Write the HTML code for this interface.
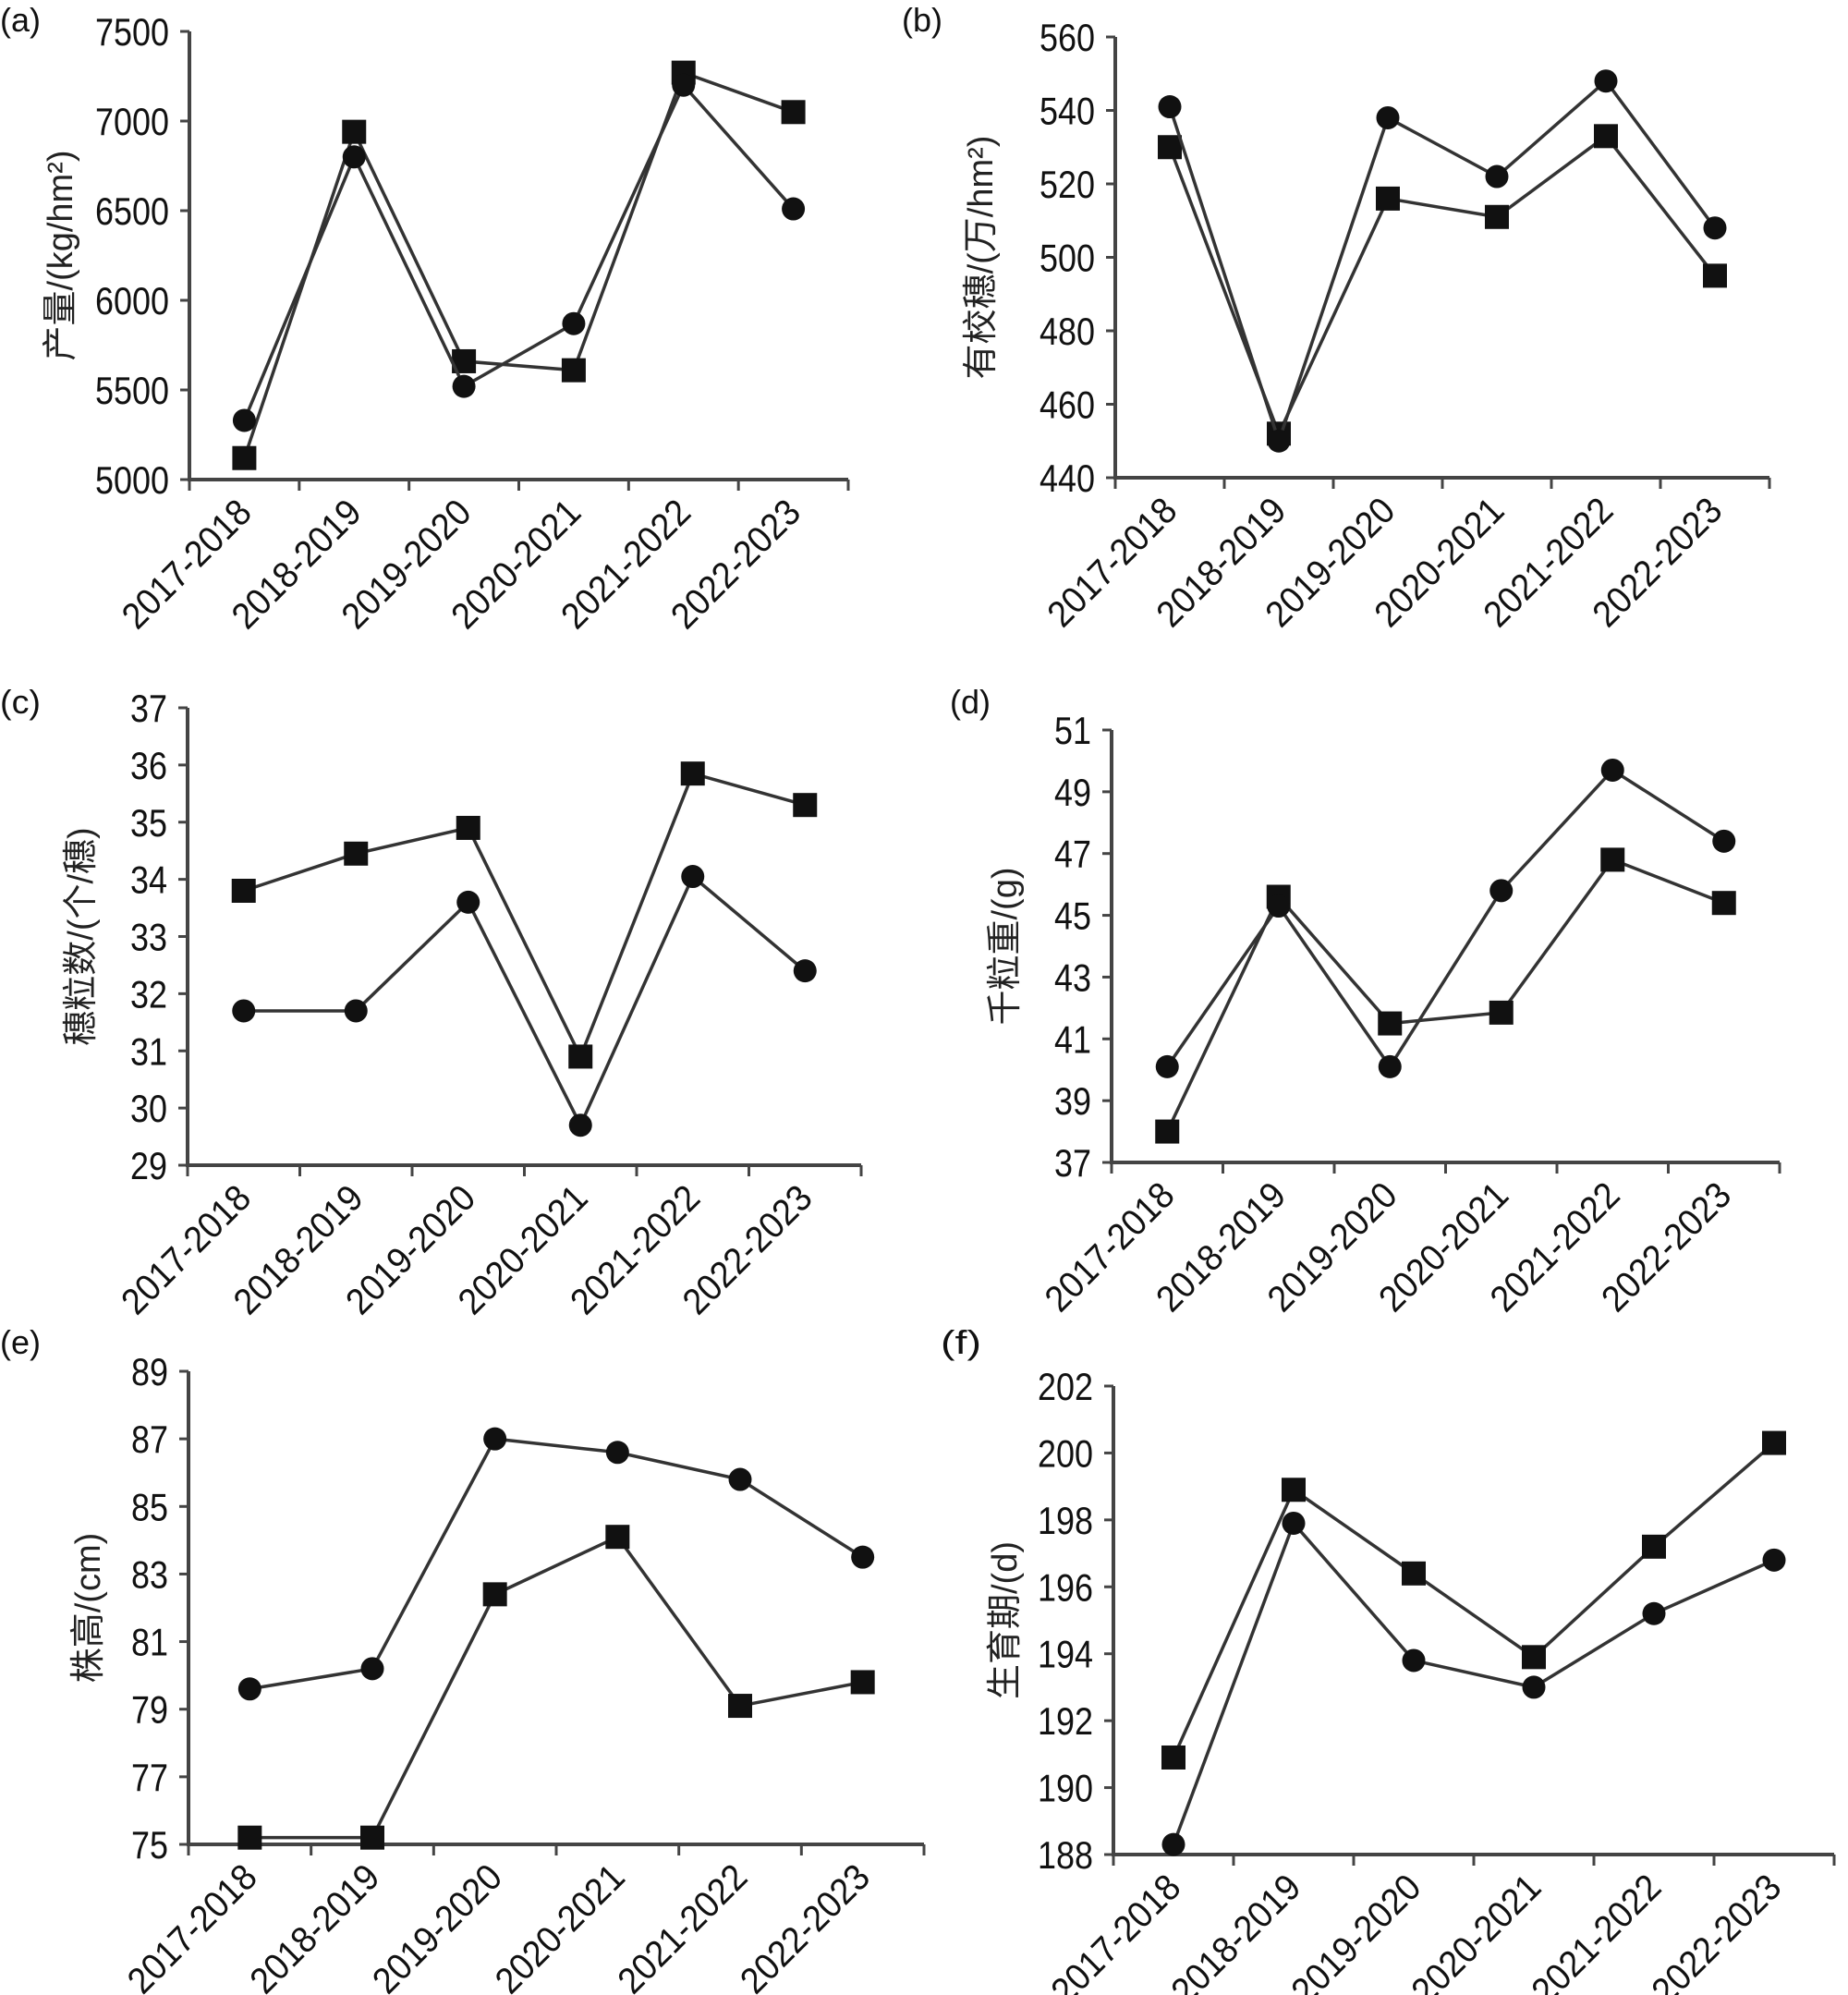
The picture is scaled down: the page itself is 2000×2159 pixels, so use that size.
<!DOCTYPE html>
<html><head><meta charset="utf-8"><style>html,body{margin:0;padding:0;background:#fff}svg{display:block}</style></head>
<body>
<svg id="fig" width="2000" height="2159" viewBox="0 0 2000 2159" xmlns="http://www.w3.org/2000/svg" font-family="'Liberation Sans','Noto Sans CJK SC',sans-serif"></svg>
<script>
const categories = ["2017-2018","2018-2019","2019-2020","2020-2021","2021-2022","2022-2023"];
const aCircle = [5330, 6800, 5520, 5870, 7200, 6510];
const aSquare = [5120, 6940, 5660, 5610, 7270, 7050];
const aTicks = [5000, 5500, 6000, 6500, 7000, 7500];
const bCircle = [541, 450, 538, 522, 548, 508];
const bSquare = [530, 452, 516, 511, 533, 495];
const bTicks = [440, 460, 480, 500, 520, 540, 560];
const cCircle = [31.7, 31.7, 33.6, 29.7, 34.05, 32.4];
const cSquare = [33.8, 34.45, 34.9, 30.9, 35.85, 35.3];
const cTicks = [29, 30, 31, 32, 33, 34, 35, 36, 37];
const dCircle = [40.1, 45.3, 40.1, 45.8, 49.7, 47.4];
const dSquare = [38.0, 45.6, 41.5, 41.85, 46.8, 45.4];
const dTicks = [37, 39, 41, 43, 45, 47, 49, 51];
const eCircle = [79.6, 80.2, 87.0, 86.6, 85.8, 83.5];
const eSquare = [75.2, 75.2, 82.4, 84.1, 79.1, 79.8];
const eTicks = [75, 77, 79, 81, 83, 85, 87, 89];
const fCircle = [188.3, 197.9, 193.8, 193.0, 195.2, 196.8];
const fSquare = [190.9, 198.9, 196.4, 193.9, 197.2, 200.3];
const fTicks = [188, 190, 192, 194, 196, 198, 200, 202];

const NS = "http://www.w3.org/2000/svg";
const svg = document.getElementById("fig");
function mk(tag, attrs, parent) {
  const el = document.createElementNS(NS, tag);
  for (const k in attrs) el.setAttribute(k, attrs[k]);
  (parent || svg).appendChild(el);
  return el;
}
function panel(p) {
  const g = mk("g", {});
  
  
  const lo = p.ticks[0], hi = p.ticks[p.ticks.length - 1];
  const y = v => p.y0 + (v - lo) / (hi - lo) * (p.y1 - p.y0);
  const step = (p.x1 - p.x0) / categories.length;
  const x = i => p.x0 + step * (i + 0.5);
  const lbl = mk("text", {x: p.lx, y: p.ly, "font-size": 36, fill: "#111", textLength: 44, lengthAdjust: "spacingAndGlyphs"}, g);
  lbl.textContent = "(" + p.id + ")";
  
  
  const ax = mk("path", {d: `M${p.x0} ${p.y1}V${p.y0}H${p.x1}`, stroke: "#444", "stroke-width": 4, fill: "none"}, g);
  
  
  p.ticks.forEach(t => {
    mk("line", {x1: p.x0 - 10, x2: p.x0, y1: y(t), y2: y(t), stroke: "#444", "stroke-width": 3}, g);
    const s = String(t);
    const tl = mk("text", {x: p.x0 - 22, y: y(t) + 15, "font-size": 42, "text-anchor": "end", fill: "#111", textLength: s.length * 20, lengthAdjust: "spacingAndGlyphs"}, g);
    tl.textContent = s;
    
    
  });
  for (let i = 0; i <= categories.length; i++) {
    const tx = p.x0 + step * i;
    mk("line", {x1: tx, x2: tx, y1: p.y0, y2: p.y0 + 12, stroke: "#444", "stroke-width": 3}, g);
  }
  categories.forEach((c, i) => {
    const ex = x(i) + 10, ey = p.y0 + 38;
    const t = mk("text", {x: ex, y: ey, "font-size": 40, "text-anchor": "end", fill: "#111", textLength: 178, lengthAdjust: "spacingAndGlyphs", transform: `rotate(-45 ${ex} ${ey})`}, g);
    t.textContent = c;
    
    
  });
  const yl = mk("text", {x: p.ylx, y: (p.y0 + p.y1) / 2, "font-size": 38, "text-anchor": "middle", fill: "#222", transform: `rotate(-90 ${p.ylx} ${(p.y0 + p.y1) / 2})`}, g);
  yl.textContent = p.ylabel;
  
  
  [[p.sq, "square"], [p.ci, "circle"]].forEach(([vals, kind]) => {
    const line = mk("polyline", {points: vals.map((v, i) => x(i) + "," + y(v)).join(" "), fill: "none", stroke: "#333", "stroke-width": 3.5}, g);
    
    
    vals.forEach((v, i) => {
      let m;
      if (kind === "square") m = mk("rect", {x: x(i) - 13, y: y(v) - 13, width: 26, height: 26, fill: "#111"}, g);
      else m = mk("circle", {cx: x(i), cy: y(v), r: 12.5, fill: "#111"}, g);
      
      
    });
  });
}
panel({id: "a", x0: 205, x1: 918, y0: 519, y1: 34, ticks: aTicks, ci: aCircle, sq: aSquare, ylabel: "产量/(kg/hm²)", ylx: 78, lx: 0, ly: 34});
panel({id: "b", x0: 1207, x1: 1915, y0: 517, y1: 40, ticks: bTicks, ci: bCircle, sq: bSquare, ylabel: "有校穗/(万/hm²)", ylx: 1074, lx: 976, ly: 34});
panel({id: "c", x0: 203, x1: 932, y0: 1261, y1: 766, ticks: cTicks, ci: cCircle, sq: cSquare, ylabel: "穗粒数/(个/穗)", ylx: 100, lx: 0, ly: 772});
panel({id: "d", x0: 1203, x1: 1926, y0: 1258, y1: 790, ticks: dTicks, ci: dCircle, sq: dSquare, ylabel: "千粒重/(g)", ylx: 1100, lx: 1028, ly: 772});
panel({id: "e", x0: 204, x1: 1000, y0: 1996, y1: 1484, ticks: eTicks, ci: eCircle, sq: eSquare, ylabel: "株高/(cm)", ylx: 108, lx: 0, ly: 1465});
panel({id: "f", x0: 1205, x1: 1985, y0: 2007, y1: 1500, ticks: fTicks, ci: fCircle, sq: fSquare, ylabel: "生育期/(d)", ylx: 1100, lx: 1018, ly: 1465});
</script>
</body></html>
